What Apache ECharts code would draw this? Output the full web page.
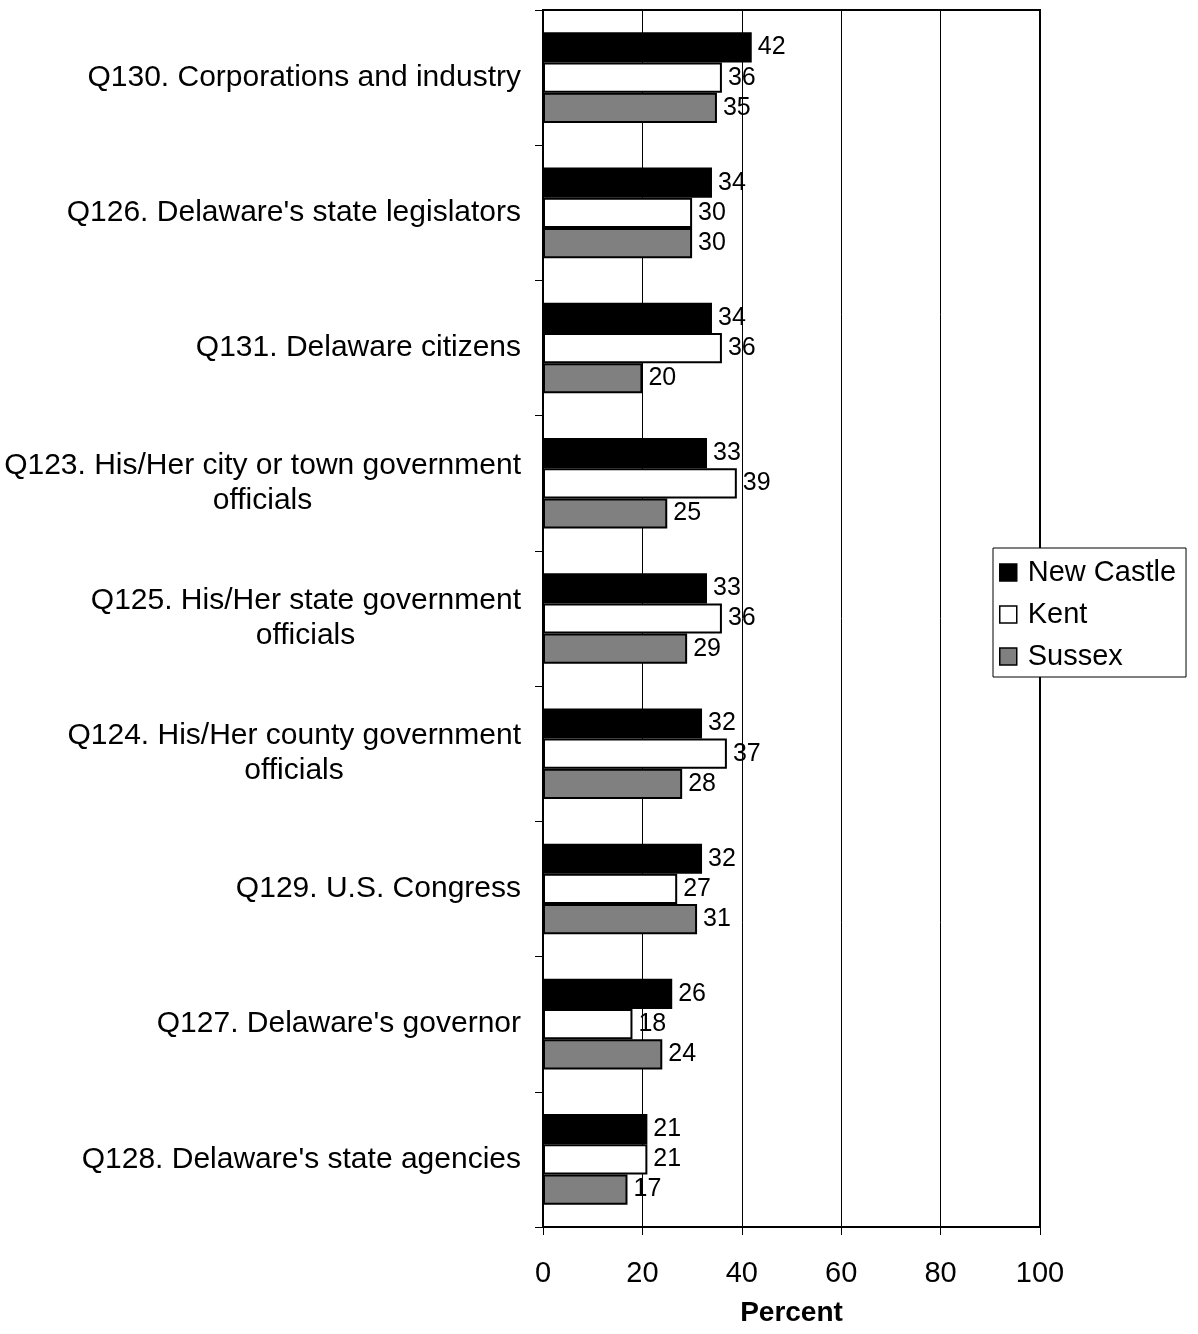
<!DOCTYPE html>
<html>
<head>
<meta charset="utf-8">
<script src="https://cdn.jsdelivr.net/npm/echarts@6/dist/echarts.min.js"></script>
<style>
html,body{margin:0;padding:0;background:#fff;}
#chart{width:1198px;height:1334px;}
</style>
</head>
<body>
<div id="chart"></div>
<script>
const categories = [
  "Q130. Corporations and industry",
  "Q126. Delaware's state legislators",
  "Q131. Delaware citizens",
  "Q123. His/Her city or town government\nofficials",
  "Q125. His/Her state government\nofficials",
  "Q124. His/Her county government\nofficials",
  "Q129. U.S. Congress",
  "Q127. Delaware's governor",
  "Q128. Delaware's state agencies"
];
const newCastle = [42, 34, 34, 33, 33, 32, 32, 26, 21];
const kent      = [36, 30, 36, 39, 36, 37, 27, 18, 21];
const sussex    = [35, 30, 20, 25, 29, 28, 31, 24, 17];
const xTicks = [0, 20, 40, 60, 80, 100];
const seriesNames = ['New Castle', 'Kent', 'Sussex'];

const FONT = 'Arial, "Liberation Sans", sans-serif';
const catSize = 30;
const ctx = document.createElement('canvas').getContext('2d');
ctx.font = catSize + 'px ' + FONT;

const rich = {
  a: { fontFamily: FONT, fontSize: catSize, color: '#000', lineHeight: 35 }
};
categories.forEach((c, i) => {
  const parts = c.split('\n');
  if (parts.length > 1) {
    rich['b' + i] = { fontFamily: FONT, fontSize: catSize, color: '#000', lineHeight: 35, align: 'center',
      width: Math.ceil(ctx.measureText(parts[0]).width) };
  }
});

const chart = echarts.init(document.getElementById('chart'));
const seriesStyle = (name, data, color) => ({
  name: name,
  type: 'bar',
  data: data,
  barGap: '0%',
  barCategoryGap: '33%',
  itemStyle: { color: color, borderColor: '#000', borderWidth: 2 },
  label: {
    show: true, position: 'right', distance: 6,
    fontFamily: FONT, fontSize: 25, color: '#000'
  }
});
chart.setOption({
  animation: false,
  backgroundColor: '#fff',
  grid: {
    left: 543, right: 158, top: 10, bottom: 107,
    show: true, borderColor: '#000', borderWidth: 2, backgroundColor: 'transparent'
  },
  legend: {
    orient: 'vertical',
    left: 993, top: 548,
    backgroundColor: '#fff',
    borderColor: '#000', borderWidth: 1,
    padding: [10, 10, 6, 6],
    icon: 'rect',
    itemWidth: 17, itemHeight: 17, itemGap: 13,
    itemStyle: { borderColor: '#000', borderWidth: 1.5 },
    textStyle: { fontFamily: FONT, fontSize: 29, color: '#000', padding: [0, 0, 0, 6] },
    data: seriesNames
  },
  xAxis: {
    type: 'value', min: 0, max: 100, interval: 20,
    name: 'Percent', nameLocation: 'middle', nameGap: 72,
    nameTextStyle: { fontFamily: FONT, fontSize: 28, fontWeight: 'bold', color: '#000' },
    axisLine: { show: true, lineStyle: { color: '#000', width: 2 } },
    axisTick: { show: true, inside: false, length: 8, lineStyle: { color: '#000', width: 1 } },
    axisLabel: {
      fontFamily: FONT, fontSize: 29, color: '#000', margin: 32,
      formatter: v => xTicks.includes(v) ? String(v) : ''
    },
    splitLine: { show: true, lineStyle: { color: '#000', width: 1 } }
  },
  yAxis: {
    type: 'category', data: categories, inverse: true,
    axisLine: { show: true, lineStyle: { color: '#000', width: 2 } },
    axisTick: { show: true, inside: false, length: 8, lineStyle: { color: '#000', width: 1 } },
    axisLabel: {
      fontFamily: FONT, fontSize: catSize, color: '#000', margin: 22, lineHeight: 35,
      formatter: function (v) {
        const i = categories.indexOf(v);
        const parts = v.split('\n');
        if (parts.length === 1) return '{a|' + v + '}';
        return '{a|' + parts[0] + '}\n{b' + i + '|' + parts[1] + '}';
      },
      rich: rich
    }
  },
  series: [
    seriesStyle(seriesNames[0], newCastle, '#000000'),
    seriesStyle(seriesNames[1], kent, '#ffffff'),
    seriesStyle(seriesNames[2], sussex, '#808080')
  ]
});
</script>
</body>
</html>
